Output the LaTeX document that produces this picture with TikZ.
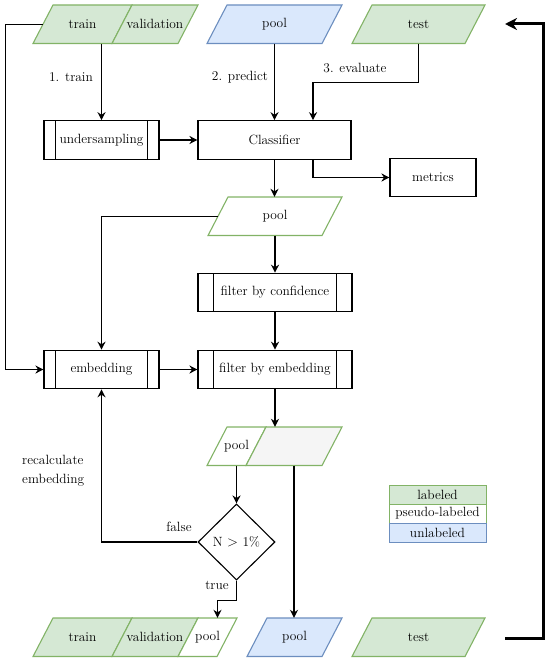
\documentclass[tikz,border=0pt]{standalone}
\usetikzlibrary{shapes.geometric,arrows.meta,calc}
\definecolor{gfill}{HTML}{D5E8D4}
\definecolor{gline}{HTML}{82B366}
\definecolor{bfill}{HTML}{DAE8FC}
\definecolor{bline}{HTML}{6C8EBF}
\definecolor{grayfill}{HTML}{F5F5F5}
\newcommand\mypara[6]{%
  \path[#5] (#2,#4+38.5) -- (#3,#4+38.5) -- (#3+20,#4) -- (#2+20,#4) -- cycle;
  \node[txt, minimum width={#3-#2+20}, minimum height=38.5] (#1) at ({(#2+#3)/2+10},{#4+19.25}) {#6};
}
\tikzset{
  txt/.style={inner sep=0pt, font=\fontsize{13.4}{19}\selectfont},
  green/.style={fill=gfill, draw=gline, line width=1.1pt},
  greenw/.style={fill=white, draw=gline, line width=1.1pt},
  blue/.style={fill=bfill, draw=bline, line width=1.1pt},
  grayp/.style={fill=grayfill, draw=gline, line width=1.1pt},
  box/.style={txt, draw, line width=1.1pt, minimum height=38.5},
  proc/.style={box, path picture={
    \draw[line width=1.1pt] ($(path picture bounding box.north west)!0.1!(path picture bounding box.north east)$) -- ($(path picture bounding box.south west)!0.1!(path picture bounding box.south east)$);
    \draw[line width=1.1pt] ($(path picture bounding box.north west)!0.9!(path picture bounding box.north east)$) -- ($(path picture bounding box.south west)!0.9!(path picture bounding box.south east)$);
  }},
  arr/.style={line width=1.2pt, -{Stealth[length=8pt,width=8pt]}},
  lbl/.style={txt},
}
\begin{document}
\begin{tikzpicture}[x=1pt,y=-1pt]
\useasboundingbox (0,0) rectangle (550,663);
% top row
\mypara{train}{33}{112}{5}{green}{train}
\mypara{val}{112}{178}{5}{green}{validation}
\mypara{pool}{207}{322}{5}{blue}{pool}
\mypara{test}{352}{465}{5}{green}{test}
% boxes
\node[proc, minimum width=115] (us) at (101.5,140) {undersampling};
\node[box, minimum width=153] (cls) at (274.5,140) {Classifier};
\node[box, minimum width=86] (met) at (433,177.5) {metrics};
\mypara{pool2}{208}{322}{197}{greenw}{pool}
\node[proc, minimum width=154] (fconf) at (275,292.5) {filter by confidence};
\node[proc, minimum width=154] (femb) at (275,369.5) {filter by embedding};
\node[proc, minimum width=115] (emb) at (101.5,369.5) {embedding};
\mypara{pool3}{207}{246}{427}{greenw}{pool}
\mypara{gray}{246}{322}{427}{grayp}{}
\node[txt, draw, diamond, line width=1.1pt, minimum width=77, minimum height=76] (dia) at (236.5,542) {N $>$ 1\%};
% bottom row
\mypara{btrain}{33}{112}{618}{green}{train}
\mypara{bval}{112}{178}{618}{green}{validation}
\mypara{bpool}{178}{217}{618}{greenw}{pool}
\mypara{bbpool}{247}{322}{618}{blue}{pool}
\mypara{btest}{352}{465}{618}{green}{test}
% legend
\node[txt, fill=gfill, draw=gline, line width=1pt, minimum width=97, minimum height=19] (lg1) at (437.5,494.5) {labeled};
\node[txt, fill=white, draw=gline, line width=1pt, minimum width=97, minimum height=19] (lg2) at (437.5,513.5) {pseudo-labeled};
\node[txt, fill=bfill, draw=bline, line width=1pt, minimum width=97, minimum height=19] (lg3) at (437.5,532.5) {unlabeled};
% labels
\node[lbl] (l1) at (71,77) {1. train};
\node[lbl] (l2) at (240,77) {2. predict};
\node[lbl] (l3) at (355,68) {3. evaluate};
\node[lbl] (lf) at (179,527) {false};
\node[lbl] (lt) at (217,585) {true};
\node[lbl, align=left, anchor=west] (lr) at (22,470.5) {recalculate\\embedding};
% connectors
\draw[arr] (us.north |- train.south) -- (us.north);
\draw[arr] (cls.north |- pool.south) -- (cls.north);
\draw[arr] (test.south) -- ++(0,39) -| ([xshift=38.5]cls.north);
\draw[arr] (us) -- (cls);
\draw[arr] ([xshift=38.5]cls.south) |- (met.west);
\draw[arr] (cls.south) -- (cls.south |- pool2.north);
\draw[arr] ([xshift=10]pool2.west) -| (emb.north);
\draw[arr] (fconf.north |- pool2.south) -- (fconf.north);
\draw[arr] (fconf) -- (femb);
\draw[arr] ([xshift=10]train.west) -- ++(-37,0) |- (emb.west);
\draw[arr] (emb) -- (femb);
\draw[arr] (femb.south) -- (femb.south |- gray.north);
\draw[arr] (pool3.south) -- (pool3.south |- dia.north);
\draw[arr] (dia.west) -| (emb.south);
\draw[arr] (dia.south) -- ++(0,20) -| ([xshift=10]bpool.north);
\draw[arr] (gray.south) -- (gray.south |- bbpool.north);
\coordinate (ls) at (505,638);
\coordinate (le) at (505,24);
\draw[line width=3pt, -{Stealth[length=12pt,width=12pt]}] (ls) -- (543,638) |- (le);
\end{tikzpicture}
\end{document}
